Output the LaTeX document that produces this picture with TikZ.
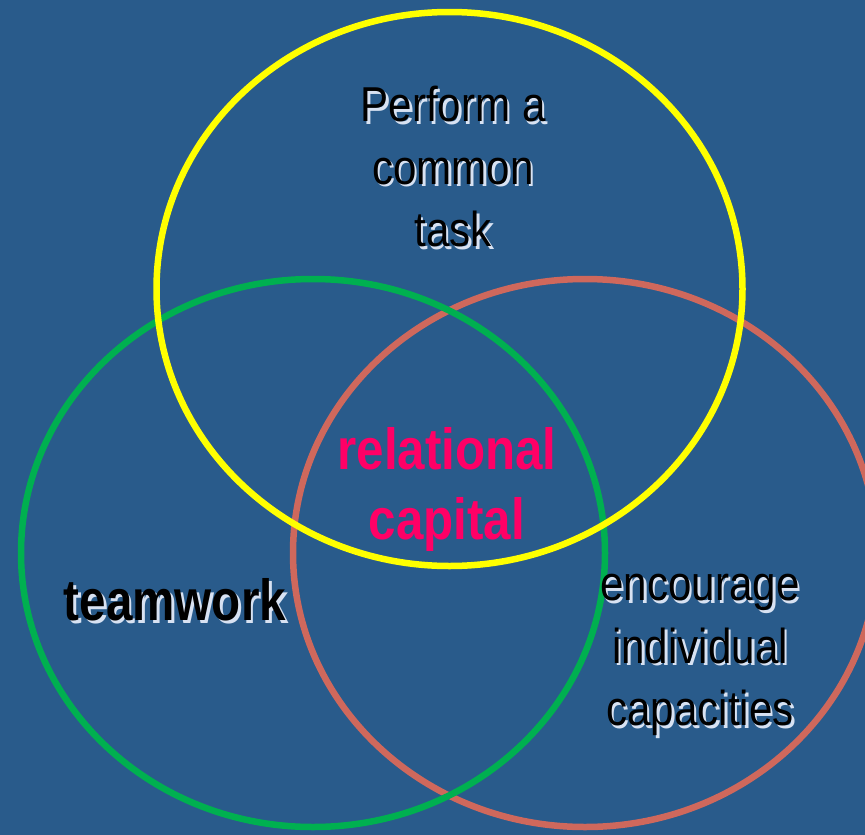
\documentclass[tikz,border=0pt]{standalone}
\usepackage{fontspec}
\newfontfamily\nf[FakeStretch=0.86]{Liberation Sans}
\newfontfamily\bnf[FakeStretch=0.82]{Liberation Sans Bold}
\newfontfamily\rnf[FakeStretch=0.85]{Liberation Sans Bold}
\definecolor{bg}{HTML}{295B8B}
\definecolor{cyel}{HTML}{FFFF00}
\definecolor{cgrn}{HTML}{00B050}
\definecolor{cred}{HTML}{CF685C}
\definecolor{cmag}{HTML}{FF0066}
\definecolor{shade}{HTML}{D8E2F2}
\tikzset{
  ring/.style={line width=6.5pt},
  txt/.style={font={\nf\fontsize{49}{62.5}\selectfont}, align=center, inner sep=0pt},
  btxt/.style={font={\bnf\fontsize{58}{70}\selectfont}, align=center, inner sep=0pt},
  rtxt/.style={font={\rnf\fontsize{58}{70}\selectfont}, align=center, inner sep=0pt},
  glow/.style={text=shade},
}
\begin{document}
\begin{tikzpicture}[x=1pt,y=-1pt]
\useasboundingbox (0,0) rectangle (865,835);
\fill[bg] (0,0) rectangle (865,835);
\begin{scope}
\clip (0,0) rectangle (865,835);
\draw[ring,cred] (585,553) ellipse [x radius=292, y radius=274];
\draw[ring,cgrn] (313,553) ellipse [x radius=292, y radius=274];
\draw[ring,cyel] (449.5,289) ellipse [x radius=293, y radius=277];
\end{scope}
% top text
\node[txt,glow] (tops) at (455.5,169.5) {Perform a\\common\\task};
\node[txt] (top) at (453,167) {Perform a\\common\\task};
% right text
\node[txt,glow] (rts) at (702.5,657.5) {encourage\\individual\\capacities};
\node[txt] (rt) at (700,655) {encourage\\individual\\capacities};
% teamwork
\node[btxt,glow] (tws) at (177.5,602.5) {teamwork};
\node[btxt] (tw) at (175,600) {teamwork};
% relational capital
\node[rtxt,text=cmag] (rc) at (447,489) {relational\\capital};
\end{tikzpicture}
\end{document}
